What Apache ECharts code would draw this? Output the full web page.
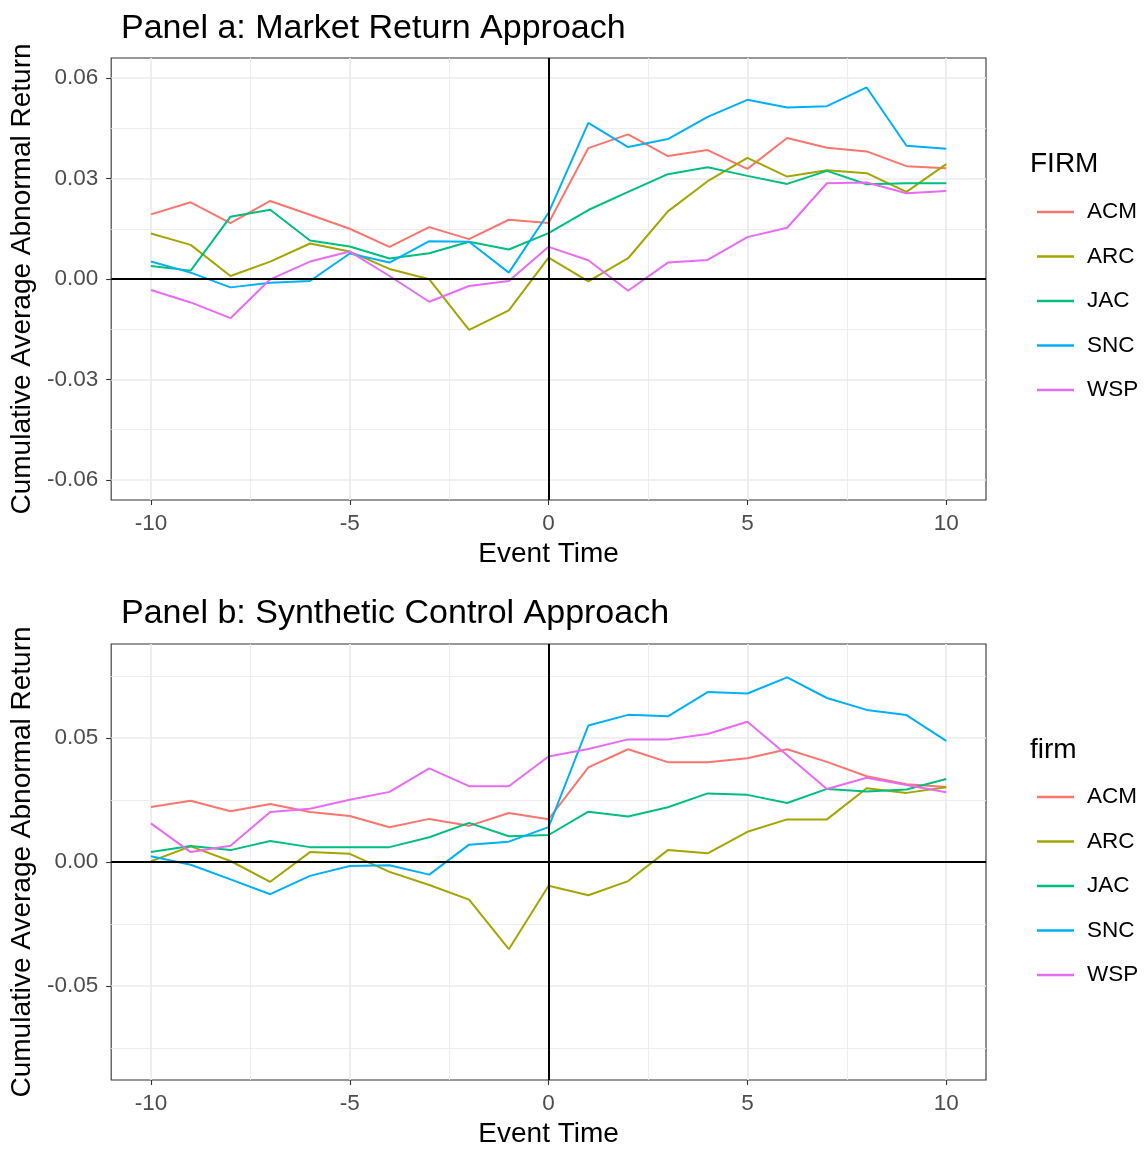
<!DOCTYPE html>
<html>
<head>
<meta charset="utf-8">
<title>Cumulative Average Abnormal Return</title>
<script src="https://cdn.jsdelivr.net/npm/echarts@6/dist/echarts.min.js"></script>
<style>
  html, body { margin: 0; padding: 0; background: #ffffff; }
  #chart { width: 1145px; height: 1149px; }
</style>
</head>
<body>
<div id="chart"></div>
<script>
// Event window (days relative to announcement)
const eventTime = [-10, -9, -8, -7, -6, -5, -4, -3, -2, -1, 0, 1, 2, 3, 4, 5, 6, 7, 8, 9, 10];

const firms = ['ACM', 'ARC', 'JAC', 'SNC', 'WSP'];
const firmColors = ['#F8766D', '#A3A500', '#00BF7D', '#00B0F6', '#E76BF3'];

// Panel a: market return approach (CAAR)
const marketACM = [0.0193, 0.0229, 0.0167, 0.0233, 0.0192, 0.0150, 0.0096, 0.0155, 0.0119, 0.0177, 0.0167,
                   0.0391, 0.0432, 0.0367, 0.0385, 0.0329, 0.0421, 0.0392, 0.0381, 0.0337, 0.0331];
const marketARC = [0.0136, 0.0102, 0.0009, 0.0052, 0.0106, 0.0082, 0.0030, -0.0001, -0.0152, -0.0094, 0.0064,
                   -0.0007, 0.0062, 0.0202, 0.0292, 0.0362, 0.0306, 0.0325, 0.0316, 0.0260, 0.0343];
const marketJAC = [0.0039, 0.0025, 0.0186, 0.0207, 0.0115, 0.0097, 0.0061, 0.0077, 0.0111, 0.0088, 0.0137,
                   0.0206, 0.0260, 0.0313, 0.0334, 0.0308, 0.0284, 0.0323, 0.0283, 0.0286, 0.0286];
const marketSNC = [0.0052, 0.0019, -0.0025, -0.0011, -0.0006, 0.0076, 0.0049, 0.0113, 0.0111, 0.0019, 0.0198,
                   0.0466, 0.0394, 0.0418, 0.0484, 0.0535, 0.0512, 0.0516, 0.0572, 0.0398, 0.0389];
const marketWSP = [-0.0033, -0.0070, -0.0117, -0.0001, 0.0052, 0.0082, 0.0009, -0.0068, -0.0021, -0.0006, 0.0096,
                   0.0056, -0.0035, 0.0049, 0.0057, 0.0125, 0.0153, 0.0286, 0.0288, 0.0256, 0.0263];

// Panel b: synthetic control approach (CAAR)
const synthACM = [0.0222, 0.0247, 0.0205, 0.0234, 0.0202, 0.0186, 0.0140, 0.0174, 0.0146, 0.0198, 0.0173,
                  0.0382, 0.0455, 0.0403, 0.0403, 0.0419, 0.0455, 0.0404, 0.0346, 0.0314, 0.0303];
const synthARC = [0.0003, 0.0063, 0.0004, -0.0080, 0.0040, 0.0033, -0.0040, -0.0093, -0.0152, -0.0352, -0.0096,
                  -0.0134, -0.0077, 0.0048, 0.0035, 0.0122, 0.0172, 0.0172, 0.0298, 0.0279, 0.0302];
const synthJAC = [0.0040, 0.0065, 0.0048, 0.0085, 0.0060, 0.0060, 0.0060, 0.0100, 0.0158, 0.0104, 0.0109,
                  0.0203, 0.0184, 0.0221, 0.0277, 0.0271, 0.0238, 0.0295, 0.0285, 0.0293, 0.0335];
const synthSNC = [0.0023, -0.0011, -0.0070, -0.0130, -0.0056, -0.0016, -0.0013, -0.0051, 0.0070, 0.0082, 0.0141,
                  0.0551, 0.0594, 0.0588, 0.0686, 0.0680, 0.0745, 0.0662, 0.0614, 0.0593, 0.0489];
const synthWSP = [0.0156, 0.0040, 0.0066, 0.0202, 0.0215, 0.0251, 0.0283, 0.0378, 0.0306, 0.0306, 0.0426,
                  0.0456, 0.0495, 0.0495, 0.0517, 0.0566, 0.0431, 0.0295, 0.0340, 0.0311, 0.0282];

// Axis breaks
const xBreaks = [-10, -5, 0, 5, 10];
const xMinorBreaks = [-7.5, -2.5, 2.5, 7.5];
const yBreaksA = [-0.06, -0.03, 0.00, 0.03, 0.06];
const yMinorBreaksA = [-0.045, -0.015, 0.015, 0.045];
const yBreaksB = [-0.05, 0.00, 0.05];
const yMinorBreaksB = [-0.075, -0.025, 0.025, 0.075];
const yLimitA = 0.066;
const yLimitB = 0.088;
const xLimit = 11;

const panelA = [marketACM, marketARC, marketJAC, marketSNC, marketWSP];
const panelB = [synthACM, synthARC, synthJAC, synthSNC, synthWSP];

const FONT = '"Liberation Sans", Arial, sans-serif';
const GRID_COLOR = '#EBEBEB';

function mainX(gridIndex) {
  return {
    type: 'value', gridIndex: gridIndex, min: -xLimit, max: xLimit, position: 'bottom',
    name: 'Event Time', nameLocation: 'middle', nameGap: 40,
    nameTextStyle: { fontFamily: FONT, fontSize: 28, color: '#000000', lineHeight: 28 },
    axisLine: { show: false, onZero: false },
    axisTick: { show: true, length: 5, customValues: xBreaks, lineStyle: { color: '#333333', width: 1.1 } },
    axisLabel: { show: true, customValues: xBreaks, margin: 12, fontFamily: FONT, fontSize: 22.5, color: '#4D4D4D',
                 formatter: v => String(v) },
    splitLine: { show: true, lineStyle: { color: GRID_COLOR, width: 1.7 } }
  };
}
function minorX(gridIndex) {
  return {
    type: 'value', gridIndex: gridIndex, min: -xLimit, max: xLimit, position: 'bottom',
    axisLine: { show: false, onZero: false },
    axisTick: { show: false, customValues: xMinorBreaks },
    axisLabel: { show: false },
    splitLine: { show: true, lineStyle: { color: GRID_COLOR, width: 0.9 } }
  };
}
function mainY(gridIndex, lim, breaks) {
  return {
    type: 'value', gridIndex: gridIndex, min: -lim, max: lim, position: 'left',
    name: 'Cumulative Average Abnormal Return', nameLocation: 'middle', nameGap: 70,
    nameTextStyle: { fontFamily: FONT, fontSize: 28, color: '#000000', lineHeight: 28 },
    axisLine: { show: false, onZero: false },
    axisTick: { show: true, length: 5, customValues: breaks, lineStyle: { color: '#333333', width: 1.1 } },
    axisLabel: { show: true, customValues: breaks, margin: 13, fontFamily: FONT, fontSize: 22.5, color: '#4D4D4D',
                 formatter: v => v.toFixed(2) },
    splitLine: { show: true, lineStyle: { color: GRID_COLOR, width: 1.7 } }
  };
}
function minorY(gridIndex, lim, breaks) {
  return {
    type: 'value', gridIndex: gridIndex, min: -lim, max: lim, position: 'left',
    axisLine: { show: false, onZero: false },
    axisTick: { show: false, customValues: breaks },
    axisLabel: { show: false },
    splitLine: { show: true, lineStyle: { color: GRID_COLOR, width: 0.9 } }
  };
}

function buildSeries(values, axisIndex) {
  return firms.map((firm, k) => {
    const s = {
      name: firm, type: 'line', xAxisIndex: axisIndex, yAxisIndex: axisIndex,
      data: eventTime.map((t, i) => [t, values[k][i]]),
      symbol: 'none', smooth: false,
      lineStyle: { color: firmColors[k], width: 2 },
      itemStyle: { color: firmColors[k] },
      emphasis: { disabled: true },
      z: 3
    };
    if (k === 0) {
      // reference lines at event day 0 and zero return
      s.markLine = {
        silent: true, symbol: 'none', label: { show: false },
        lineStyle: { color: '#000000', width: 2, type: 'solid' },
        emphasis: { disabled: true },
        data: [{ xAxis: 0 }, { yAxis: 0 }],
        z: 4
      };
    }
    return s;
  });
}

function legendFor(top) {
  return {
    orient: 'vertical', left: 1032, top: top,
    data: firms, icon: 'rect', itemWidth: 37, itemHeight: 2.5, itemGap: 20.5,
    selectedMode: false,
    textStyle: { fontFamily: FONT, fontSize: 22.5, color: '#000000', lineHeight: 24, padding: [0, 0, 0, 8] }
  };
}

const chart = echarts.init(document.getElementById('chart'), null, { renderer: 'canvas' });
chart.setOption({
  animation: false,
  backgroundColor: '#ffffff',
  title: [
    { text: 'Panel a: Market Return Approach', left: 116, top: 7,
      textStyle: { fontFamily: FONT, fontSize: 34, fontWeight: 'normal', color: '#000000', lineHeight: 34 } },
    { text: 'Panel b: Synthetic Control Approach', left: 116, top: 592,
      textStyle: { fontFamily: FONT, fontSize: 34, fontWeight: 'normal', color: '#000000', lineHeight: 34 } },
    { text: 'FIRM', left: 1025, top: 145,
      textStyle: { fontFamily: FONT, fontSize: 28, fontWeight: 'normal', color: '#000000', lineHeight: 28 } },
    { text: 'firm', left: 1025, top: 731,
      textStyle: { fontFamily: FONT, fontSize: 28, fontWeight: 'normal', color: '#000000', lineHeight: 28 } }
  ],
  legend: [legendFor(195), legendFor(780)],
  grid: [
    { left: 111, top: 58, width: 875, height: 442, show: true, borderColor: '#333333', borderWidth: 1.1, backgroundColor: 'transparent' },
    { left: 111, top: 644, width: 875, height: 440, show: true, borderColor: '#333333', borderWidth: 1.1, backgroundColor: 'transparent' }
  ],
  xAxis: [mainX(0), minorX(0), mainX(1), minorX(1)],
  yAxis: [mainY(0, yLimitA, yBreaksA), minorY(0, yLimitA, yMinorBreaksA),
          mainY(1, yLimitB, yBreaksB), minorY(1, yLimitB, yMinorBreaksB)],
  series: [].concat(buildSeries(panelA, 0), buildSeries(panelB, 2))
});
</script>
</body>
</html>
